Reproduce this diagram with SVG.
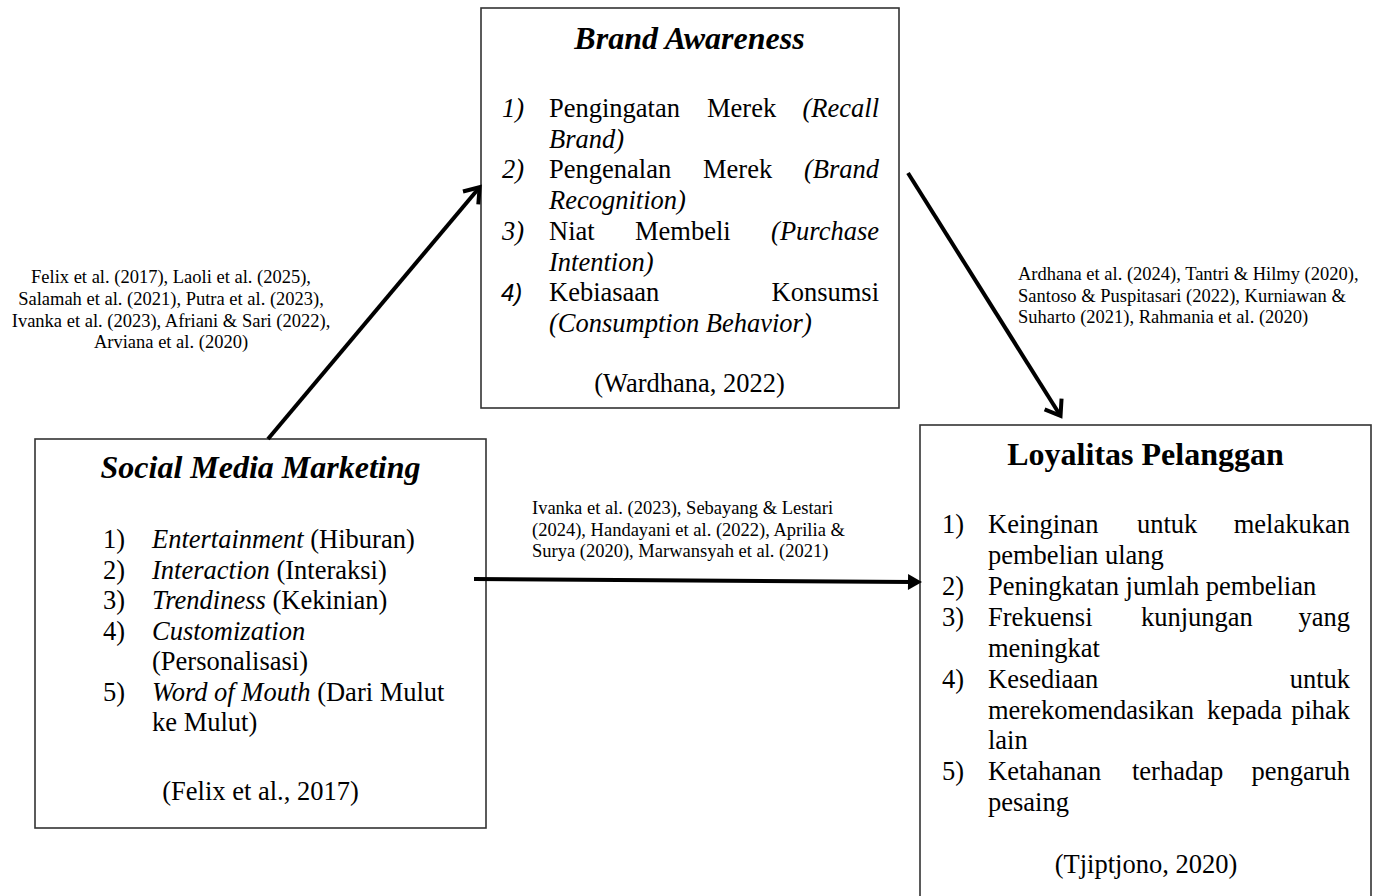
<svg xmlns="http://www.w3.org/2000/svg" width="1379" height="896" viewBox="0 0 1379 896">
<defs>
<style>
.box{fill:#fff;stroke:#333;stroke-width:1.6}
.t{font-family:"Liberation Serif","Times New Roman",serif;fill:#000}
.ttl{font-size:32px;font-weight:bold;text-anchor:middle}
.it{font-style:italic}
.b{font-size:26.5px}
.c{font-size:18.5px}
.m{text-anchor:middle}
.r{text-anchor:end}
.conn{stroke:#000;stroke-width:4;fill:none}
</style>
<marker id="open" markerUnits="userSpaceOnUse" markerWidth="40" markerHeight="40" viewBox="-20 -20 40 40" refX="0" refY="0" orient="auto">
<path d="M-13,-10 L1,0 L-13,10" fill="none" stroke="#000" stroke-width="4"/>
</marker>
<marker id="solid" markerUnits="userSpaceOnUse" markerWidth="40" markerHeight="40" viewBox="-20 -20 40 40" refX="0" refY="0" orient="auto">
<path d="M-4,-8 L10,0 L-4,8 z" fill="#000"/>
</marker>
</defs>
<rect width="1379" height="896" fill="#fff"/>

<g id="brand-awareness">
<rect class="box" x="481" y="8" width="418" height="400"/>
<text class="t ttl it" x="689.5" y="49">Brand Awareness</text>
<text class="t b it" x="502" y="117">1)</text>
<text class="t b" x="549" y="117">Pengingatan</text>
<text class="t b" x="707" y="117">Merek</text>
<text class="t b it r" x="879" y="117">(Recall</text>
<text class="t b it" x="549" y="147.5">Brand)</text>
<text class="t b it" x="502" y="178">2)</text>
<text class="t b" x="549" y="178">Pengenalan</text>
<text class="t b" x="703" y="178">Merek</text>
<text class="t b it r" x="879" y="178">(Brand</text>
<text class="t b it" x="549" y="209">Recognition)</text>
<text class="t b it" x="502" y="240">3)</text>
<text class="t b" x="549" y="240">Niat</text>
<text class="t b" x="635" y="240">Membeli</text>
<text class="t b it r" x="879" y="240">(Purchase</text>
<text class="t b it" x="549" y="270.5">Intention)</text>
<text x="501" y="301" style="font-family:'Liberation Sans',Arial,sans-serif;font-style:italic;font-size:24px">4)</text>
<text class="t b" x="549" y="301">Kebiasaan</text>
<text class="t b r" x="879" y="301">Konsumsi</text>
<text class="t b it" x="549" y="332">(Consumption Behavior)</text>
<text class="t b m" x="689.5" y="392">(Wardhana, 2022)</text>
</g>

<g id="social-media-marketing">
<rect class="box" x="35" y="439" width="451" height="389"/>
<text class="t ttl it" x="260.5" y="478">Social Media Marketing</text>
<text class="t b" x="103" y="548">1)</text>
<text class="t b" x="152" y="548"><tspan class="it">Entertainment</tspan> (Hiburan)</text>
<text class="t b" x="103" y="578.5">2)</text>
<text class="t b" x="152" y="578.5"><tspan class="it">Interaction</tspan> (Interaksi)</text>
<text class="t b" x="103" y="609">3)</text>
<text class="t b" x="152" y="609"><tspan class="it">Trendiness</tspan> (Kekinian)</text>
<text class="t b" x="103" y="639.5">4)</text>
<text class="t b it" x="152" y="639.5">Customization</text>
<text class="t b" x="152" y="670">(Personalisasi)</text>
<text class="t b" x="103" y="700.5">5)</text>
<text class="t b" x="152" y="700.5"><tspan class="it">Word of Mouth</tspan> (Dari Mulut</text>
<text class="t b" x="152" y="731">ke Mulut)</text>
<text class="t b m" x="260.5" y="800">(Felix et al., 2017)</text>
</g>

<g id="loyalitas-pelanggan">
<rect class="box" x="920" y="425" width="451" height="474"/>
<text class="t ttl" x="1145.5" y="465">Loyalitas Pelanggan</text>
<text class="t b" x="942" y="533">1)</text>
<text class="t b" x="988" y="533">Keinginan</text>
<text class="t b" x="1137" y="533">untuk</text>
<text class="t b r" x="1350" y="533">melakukan</text>
<text class="t b" x="988" y="564">pembelian ulang</text>
<text class="t b" x="942" y="595">2)</text>
<text class="t b" x="988" y="595">Peningkatan jumlah pembelian</text>
<text class="t b" x="942" y="626">3)</text>
<text class="t b" x="988" y="626">Frekuensi</text>
<text class="t b" x="1141" y="626">kunjungan</text>
<text class="t b r" x="1350" y="626">yang</text>
<text class="t b" x="988" y="657">meningkat</text>
<text class="t b" x="942" y="687.5">4)</text>
<text class="t b" x="988" y="687.5">Kesediaan</text>
<text class="t b r" x="1350" y="687.5">untuk</text>
<text class="t b" x="988" y="718.5">merekomendasikan</text>
<text class="t b" x="1207" y="718.5">kepada</text>
<text class="t b r" x="1350" y="718.5">pihak</text>
<text class="t b" x="988" y="749">lain</text>
<text class="t b" x="942" y="780">5)</text>
<text class="t b" x="988" y="780">Ketahanan</text>
<text class="t b" x="1132" y="780">terhadap</text>
<text class="t b r" x="1350" y="780">pengaruh</text>
<text class="t b" x="988" y="810.5">pesaing</text>
<text class="t b m" x="1146" y="873">(Tjiptjono, 2020)</text>
</g>

<g id="connectors">
<line class="conn" x1="268" y1="439" x2="479" y2="188" marker-end="url(#open)"/>
<line class="conn" x1="908" y1="173" x2="1060" y2="415" marker-end="url(#open)"/>
<line class="conn" x1="474" y1="579" x2="912" y2="582" marker-end="url(#solid)"/>
</g>

<g id="label-smm-ba">
<text class="t c m" x="171" y="283">Felix et al. (2017), Laoli et al. (2025),</text>
<text class="t c m" x="171" y="305">Salamah et al. (2021), Putra et al. (2023),</text>
<text class="t c m" x="171" y="326.5">Ivanka et al. (2023), Afriani &amp; Sari (2022),</text>
<text class="t c m" x="171" y="348">Arviana et al. (2020)</text>
</g>

<g id="label-ba-lp">
<text class="t c" x="1018" y="280">Ardhana et al. (2024), Tantri &amp; Hilmy (2020),</text>
<text class="t c" x="1018" y="301.5">Santoso &amp; Puspitasari (2022), Kurniawan &amp;</text>
<text class="t c" x="1018" y="323">Suharto (2021), Rahmania et al. (2020)</text>
</g>

<g id="label-smm-lp">
<text class="t c" x="532" y="514">Ivanka et al. (2023), Sebayang &amp; Lestari</text>
<text class="t c" x="532" y="535.5">(2024), Handayani et al. (2022), Aprilia &amp;</text>
<text class="t c" x="532" y="557">Surya (2020), Marwansyah et al. (2021)</text>
</g>
</svg>
